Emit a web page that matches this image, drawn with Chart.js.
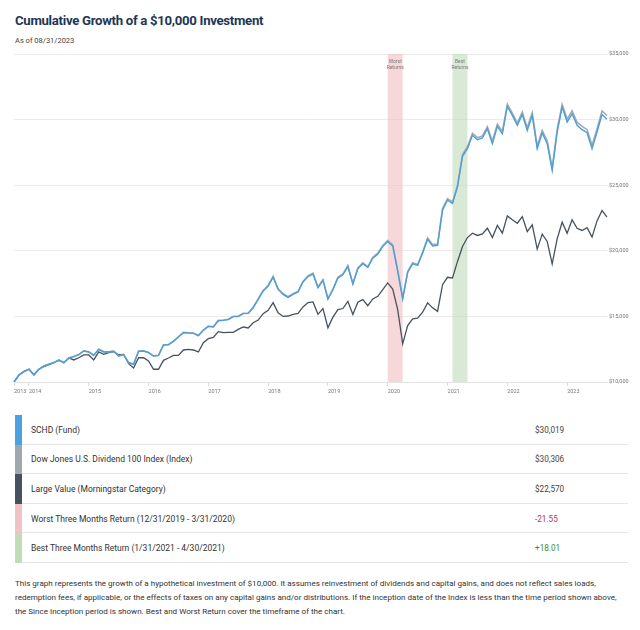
<!DOCTYPE html>
<html>
<head>
<meta charset="utf-8">
<script src="https://cdn.jsdelivr.net/npm/chart.js@4.4.0/dist/chart.umd.min.js"></script>
<style>
  html, body { margin: 0; padding: 0; background: #fff; }
  body { width: 640px; height: 630px; position: relative; overflow: hidden; font-family: Roboto, "Noto Sans", sans-serif; }
  #title { position: absolute; left: 15px; top: 13px; font-size: 13.2px; letter-spacing: -0.3px; font-weight: 700; color: #1e3656; white-space: nowrap; }
  #asof { position: absolute; left: 15px; top: 36px; font-size: 7.5px; color: #444; }
  #chart { position: absolute; left: 0; top: 48px; }
  #legend { position: absolute; left: 15px; top: 415px; width: 613px; }
  .row { position: relative; height: 29.6px; display: flex; align-items: center; }
  .sw { position: absolute; left: 0; top: 0; bottom: 0; width: 7px; }
  .row .lbl { position: absolute; left: 16px; font-size: 8.5px; color: #333; }
  .row .val { position: absolute; left: 520px; font-size: 8.2px; color: #444; }
  .row .line { position: absolute; left: 7px; right: 0; bottom: 0; height: 1px; background: #e6e6e6; }
  #note { position: absolute; left: 15px; top: 577px; font-size: 8.05px; line-height: 14px; color: #333; white-space: nowrap; }
</style>
</head>
<body>
<div id="title">Cumulative Growth of a $10,000 Investment</div>
<div id="asof">As of 08/31/2023</div>
<canvas id="chart" width="640" height="350"></canvas>
<div id="legend"></div>
<div id="note">This graph represents the growth of a hypothetical investment of $10,000. It assumes reinvestment of dividends and capital gains, and does not reflect sales loads,<br>redemption fees, if applicable, or the effects of taxes on any capital gains and/or distributions. If the inception date of the Index is less than the time period shown above,<br>the Since Inception period is shown. Best and Worst Return cover the timeframe of the chart.</div>
<script>
// ---- DATA ----
const startYear = 2013, startMonth = 9, monthCount = 120; // monthly, 09/2013 .. 08/2023
const months = [];
for (let i = 0; i < monthCount; i++) {
  const m = (startMonth - 1 + i) % 12 + 1;
  const y = startYear + Math.floor((startMonth - 1 + i) / 12);
  months.push(y + '-' + String(m).padStart(2, '0'));
}

const fundValues = [
  10000,10530,10790,10970,10530,10970,11220,11350,11470,11650,11470,11830,
  11930,12080,12360,12290,12030,12490,12290,12290,12340,11980,12080,11470,
  11350,12340,12360,12240,11980,12030,12820,12840,13100,13430,13760,13730,
  13710,13530,13940,14240,14190,14670,14700,14750,14980,14980,15210,15230,
  15660,16300,16930,17320,18000,17060,16680,16450,16680,16860,17620,18030,
  18230,17190,17750,16320,17030,17920,18170,18800,17460,18630,19010,18730,
  19440,19740,20320,20700,20370,18430,16330,18350,19010,18880,19820,20880,
  20370,20420,23110,23860,23610,24880,27200,27790,28800,28470,28600,29300,
  28170,29480,28920,31000,30320,29560,30390,29180,30320,27790,28980,28170,
  26140,29050,30950,29810,30440,29560,29230,29000,27790,29050,30390,30019
];
const indexValues = [
  10000,10530,10790,10970,10530,10970,11220,11350,11480,11660,11480,11840,
  11940,12090,12370,12300,12040,12500,12300,12300,12350,11990,12090,11480,
  11360,12350,12370,12250,11990,12040,12840,12860,13120,13450,13780,13750,
  13730,13550,13960,14260,14210,14700,14730,14780,15010,15010,15240,15260,
  15700,16340,16970,17360,18050,17110,16730,16500,16730,16910,17670,18090,
  18290,17240,17800,16370,17080,17980,18230,18870,17520,18700,19080,18800,
  19510,19820,20400,20790,20450,18500,16390,18420,19090,18960,19910,20980,
  20470,20520,23220,23980,23730,25000,27340,27930,28950,28620,28750,29460,
  28330,29650,29090,31180,30500,29740,30580,29370,30520,27980,29180,28370,
  26330,29260,31170,30040,30680,29800,29480,29250,28030,29310,30660,30306
];
const largeValueValues = [
  10000,10530,10810,10970,10580,10970,11170,11320,11470,11680,11470,11830,
  11680,11850,12060,12060,11680,12290,12110,12240,12310,12080,12110,11400,
  11070,11850,11850,11600,10970,10970,11650,11830,12030,12030,12440,12490,
  12440,12290,13000,13300,13400,13840,13760,13790,13790,14010,14190,14120,
  14520,14720,15210,15460,16050,15280,15000,15030,15160,15230,15720,16050,
  16100,15160,15600,14130,14940,15520,15600,16150,15140,16080,16280,15820,
  16330,16530,17040,17550,17090,15520,12910,14300,14810,14860,15320,16030,
  15650,15390,17420,17980,17930,19190,20330,21010,21340,21170,21290,21720,
  21010,21930,21340,22660,22360,22100,22610,21470,21980,20130,21270,20710,
  19010,20910,22180,21340,22360,21720,21550,21770,21040,22280,23070,22570
];

const seriesNames = ['SCHD (Fund)', 'Dow Jones U.S. Dividend 100 Index (Index)', 'Large Value (Morningstar Category)'];
const endingValues = ['$30,019', '$30,306', '$22,570'];
const worstLabel = 'Worst Three Months Return (12/31/2019 - 3/31/2020)';
const bestLabel = 'Best Three Months Return (1/31/2021 - 4/30/2021)';
const worstReturn = '-21.55';
const bestReturn = '+18.01';
const worstPeriod = ['2019-12', '2020-03'];
const bestPeriod = ['2021-01', '2021-04'];
const yTicks = [10000, 15000, 20000, 25000, 30000, 35000];

// ---- STYLE ----
const cFund = '#4d9fd6', cIndex = '#a3abb2', cLV = '#46525e';
const swFund = '#4aa3df', swIndex = '#9fa8af', swLV = '#46535f', swWorst = '#f2c3c5', swBest = '#c0ddb8';

// ---- LEGEND TABLE ----
const legendRows = [
  [seriesNames[0], endingValues[0], swFund, '#444'],
  [seriesNames[1], endingValues[1], swIndex, '#444'],
  [seriesNames[2], endingValues[2], swLV, '#444'],
  [worstLabel, worstReturn, swWorst, '#b0374a'],
  [bestLabel, bestReturn, swBest, '#3f8a3a']
];
const leg = document.getElementById('legend');
legendRows.forEach(r => {
  const d = document.createElement('div');
  d.className = 'row';
  d.innerHTML = '<div class="sw" style="background:' + r[2] + '"></div><span class="lbl">' + r[0] +
    '</span><span class="val" style="color:' + r[3] + '">' + r[1] + '</span><div class="line"></div>';
  leg.appendChild(d);
});

// ---- BANDS PLUGIN ----
const bands = [
  { range: worstPeriod, color: 'rgba(240,190,194,0.6)', text: ['Worst', 'Returns'] },
  { range: bestPeriod, color: 'rgba(190,220,185,0.6)', text: ['Best', 'Returns'] }
];
const bandPlugin = {
  id: 'bands',
  beforeDatasetsDraw(chart) {
    const { ctx, chartArea, scales } = chart;
    ctx.save();
    bands.forEach(b => {
      const x0 = scales.x.getPixelForValue(months.indexOf(b.range[0]));
      const x1 = scales.x.getPixelForValue(months.indexOf(b.range[1]));
      ctx.fillStyle = b.color;
      ctx.fillRect(x0, chartArea.top, x1 - x0, chartArea.bottom - chartArea.top);
      ctx.fillStyle = '#777';
      ctx.font = '5px Roboto, sans-serif';
      ctx.textAlign = 'center';
      ctx.textBaseline = 'middle';
      ctx.fillText(b.text[0], (x0 + x1) / 2, chartArea.top + 8);
      ctx.fillText(b.text[1], (x0 + x1) / 2, chartArea.top + 14);
    });
    ctx.restore();
  }
};

// ---- CHART ----
function yearTickLabel(i) {
  if (i === 0) return months[0].slice(0, 4);
  const mm = months[i].slice(5);
  if (mm === '12') return String(Number(months[i].slice(0, 4)) + 1);
  return null;
}

new Chart(document.getElementById('chart'), {
  type: 'line',
  data: {
    labels: months,
    datasets: [
      { label: seriesNames[2], data: largeValueValues, borderColor: cLV, borderWidth: 1.3, order: 3 },
      { label: seriesNames[1], data: indexValues, borderColor: cIndex, borderWidth: 1.6, order: 2 },
      { label: seriesNames[0], data: fundValues, borderColor: cFund, borderWidth: 1.4, order: 1 }
    ]
  },
  options: {
    responsive: false,
    animation: false,
    devicePixelRatio: 1,
    layout: { padding: { left: 14, top: 6, right: 0, bottom: 0 } },
    elements: { point: { radius: 0 }, line: { tension: 0 } },
    plugins: { legend: { display: false }, tooltip: { enabled: false } },
    scales: {
      x: {
        type: 'category',
        offset: false,
        afterFit(s) { s.height = 16; },
        grid: { drawOnChartArea: false, drawTicks: true, tickLength: 4, color: '#dcdcdc' },
        border: { display: true, color: '#e3e3e3' },
        ticks: {
          autoSkip: false, maxRotation: 0, align: 'start', padding: 2,
          color: '#777', font: { size: 5.5, family: 'Roboto, sans-serif' },
          callback: (v, i) => yearTickLabel(i)
        }
      },
      y: {
        position: 'right',
        min: 10000, max: 35000,
        afterFit(s) { s.width = 33; },
        afterBuildTicks(s) { s.ticks = yTicks.map(v => ({ value: v })); },
        grid: { color: '#ebebeb', drawTicks: false, lineWidth: 1 },
        border: { display: false },
        ticks: {
          padding: 2, color: '#777', font: { size: 5.5, family: 'Roboto, sans-serif' },
          callback: v => '$' + v.toLocaleString('en-US')
        }
      }
    }
  },
  plugins: [bandPlugin]
});
</script>
</body>
</html>
